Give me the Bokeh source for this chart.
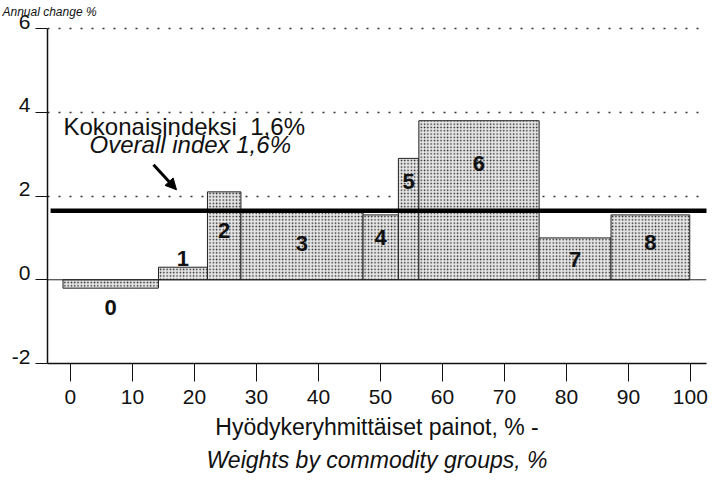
from bokeh.plotting import figure
from bokeh.models import (Range1d, FixedTicker, ColumnDataSource, LabelSet, Label,
                          Arrow, NormalHead, Span, Title, LinearAxis, CustomJSTickFormatter)
from bokeh.embed import file_html
from bokeh.resources import INLINE
from bokeh.core.properties import value

# ---- data ----
groups = ["0", "1", "2", "3", "4", "5", "6", "7", "8"]
weights = [15.4, 7.9, 5.4, 19.7, 5.7, 3.3, 19.4, 11.6, 12.7]      # % weight (bar widths)
changes = [-0.2, 0.3, 2.1, 1.65, 1.55, 2.9, 3.8, 1.0, 1.55]        # annual change %
overall = 1.65
x_ticks = [0, 10, 20, 30, 40, 50, 60, 70, 80, 90, 100]
y_ticks = [-2, 0, 2, 4, 6]
grid_levels = [2, 4, 6]

# ---- layout choices ----
bar_start = -1.2
label_heights = [-0.67, 0.52, 1.18, 0.87, 1.01, 2.34, 2.77, 0.49, 0.90]
label_raise = 0.165          # y tick labels sit a little above their ticks
FONT = "Liberation Sans"

lefts, rights = [], []
pos = bar_start
for w in weights:
    lefts.append(pos)
    pos += w
    rights.append(pos)
bar_end = pos
centers = [(l + r) / 2 for l, r in zip(lefts, rights)]

p = figure(width=711, height=474, x_range=Range1d(-3.7, 102.6), y_range=Range1d(-2, 6.17),
           output_backend="svg", toolbar_location=None,
           min_border_left=47, min_border_right=5, min_border_top=20, min_border_bottom=111)
p.outline_line_color = None
p.background_fill_color = "white"
p.xgrid.visible = False
p.ygrid.ticker = FixedTicker(ticks=grid_levels)
p.ygrid.grid_line_color = "#333333"
p.ygrid.grid_line_dash = "2 9"
p.ygrid.grid_line_width = 1.5

# x axis
xa = p.xaxis[0]
xa.ticker = FixedTicker(ticks=x_ticks)
xa.major_tick_out = 18
xa.major_tick_in = 0
xa.minor_tick_out = 0
xa.minor_tick_in = 0
xa.axis_line_width = 1.5
xa.axis_line_color = "#111111"
xa.major_tick_line_color = "#111111"
xa.major_label_text_font = FONT
xa.major_label_text_font_size = "21px"
xa.major_label_text_color = "#111111"
xa.major_label_standoff = 8

# y axis: line + ticks only
ya = p.yaxis[0]
ya.ticker = FixedTicker(ticks=y_ticks)
ya.bounds = (min(y_ticks), max(y_ticks))
ya.major_tick_out = 12
ya.major_tick_in = 0
ya.minor_tick_out = 0
ya.minor_tick_in = 0
ya.axis_line_width = 1.5
ya.axis_line_color = "#111111"
ya.major_tick_line_color = "#111111"
ya.major_label_text_color = None
ya.major_label_text_font_size = "1px"
ya.major_label_standoff = 0

# y tick labels, raised slightly above the ticks as in the original
ya2 = LinearAxis(ticker=FixedTicker(ticks=[t + label_raise for t in y_ticks]),
                 formatter=CustomJSTickFormatter(code="return String(Math.round(tick - %f));" % label_raise),
                 axis_line_color=None, major_tick_line_color=None, minor_tick_line_color=None,
                 major_tick_out=0, major_tick_in=0, minor_tick_out=0, minor_tick_in=0,
                 major_label_standoff=5, major_label_text_font=FONT,
                 major_label_text_font_size="21px", major_label_text_color="#111111")
p.add_layout(ya2, "left")

# titles: axis title in two lines below, y title at top-left
t1 = Title(text="Hyödykeryhmittäiset painot, % -", align="center", offset=16, standoff=10,
           text_font=FONT, text_font_size="23px", text_font_style="normal", text_color="#111111")
t2 = Title(text="Weights by commodity groups, %", align="center", offset=16, standoff=0,
           text_font=FONT, text_font_size="23px", text_font_style="italic", text_color="#111111")
p.add_layout(t1, "below")
p.add_layout(t2, "below")
t0 = Title(text="Annual change %", align="left", offset=-45, standoff=5,
           text_font=FONT, text_font_size="12px", text_font_style="italic", text_color="#111111")
p.add_layout(t0, "above")

# zero line
p.add_layout(Span(location=0, dimension="width", line_color="#222222", line_width=1))

# bars
src = ColumnDataSource(dict(left=lefts, right=rights, top=changes, bottom=[0] * len(changes)))
p.quad(left="left", right="right", top="top", bottom="bottom", source=src,
       fill_color="#e6e6e6", line_color="#222222", line_width=1,
       hatch_pattern="dot", hatch_color="#222222", hatch_scale=3.3, hatch_weight=1.2)

# overall index line
p.segment(x0=[bar_start - 2.0], x1=[bar_end + 3.0], y0=[overall], y1=[overall],
          line_color="black", line_width=4.5)

# bar labels
lsrc = ColumnDataSource(dict(x=centers, y=label_heights, text=groups))
p.add_layout(LabelSet(x="x", y="y", text="text", source=lsrc, text_align="center",
                      text_baseline="middle", text_font=value(FONT), text_font_size="22px",
                      text_font_style="bold", text_color="#111111"))

# annotations
p.add_layout(Label(x=-1.12, y=3.67, text="Kokonaisindeksi\u00a0 1,6%", text_align="left",
                   text_baseline="alphabetic", text_font=FONT, text_font_size="24px",
                   text_color="#111111"))
p.add_layout(Label(x=3.08, y=3.22, text="Overall index 1,6%", text_align="left",
                   text_baseline="alphabetic", text_font=FONT, text_font_size="24px",
                   text_font_style="italic", text_color="#111111"))
p.add_layout(Arrow(end=NormalHead(size=11, fill_color="black", line_color="black"),
                   x_start=13.40, y_start=2.75, x_end=17.11, y_end=2.15,
                   line_width=3, line_color="black"))

open("out.html", "w").write(file_html(p, INLINE))
